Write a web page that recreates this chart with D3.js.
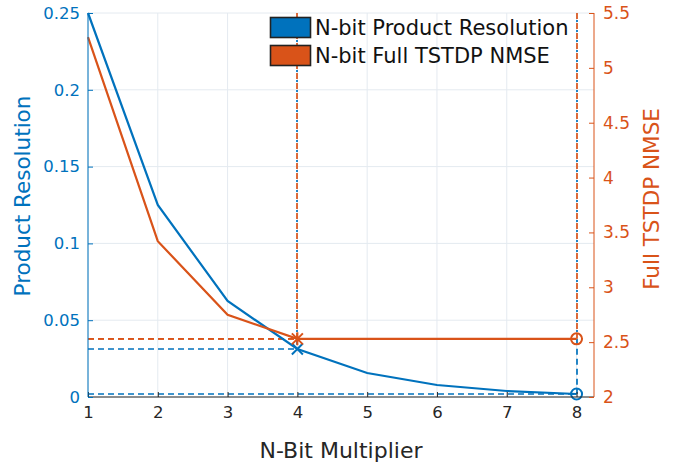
<!DOCTYPE html>
<html><head><meta charset="utf-8">
<script src="https://cdn.jsdelivr.net/npm/d3@7"></script>
<style>body{margin:0;background:#fff;} svg{display:block;font-family:"DejaVu Sans",sans-serif;}</style>
</head><body>
<svg id="c" width="686" height="464"></svg>
<script>
const bits = [1,2,3,4,5,6,7,8];
const resolution = [0.25,0.125,0.0625,0.03125,0.015625,0.0078125,0.00390625,0.001953125];
const nmse = [5.28,3.42,2.75,2.53,2.53,2.53,2.53,2.53];
const xTicks = [1,2,3,4,5,6,7,8];
const leftTicks = [0,0.05,0.1,0.15,0.2,0.25];
const rightTicks = [2,2.5,3,3.5,4,4.5,5,5.5];
const seriesNames = ["N-bit Product Resolution","N-bit Full TSTDP NMSE"];
const markIdx = [3,7]; // highlighted points (N=4 and N=8)

const BLUE="#0072BD", ORANGE="#D95319", GRID="#e4eaf0", DARK="#262626";
const L=88,R=594,T=13,B=397;
const svg=d3.select("#c");
const x=d3.scaleLinear().domain([1,8.25]).range([L,R]);
const yl=d3.scaleLinear().domain([0,0.25]).range([B,T]);
const yr=d3.scaleLinear().domain([2,5.5]).range([B,T]);

// grid
svg.append("g").selectAll("line").data(xTicks).join("line")
  .attr("x1",d=>x(d)).attr("x2",d=>x(d)).attr("y1",T).attr("y2",B)
  .attr("stroke",GRID).attr("stroke-width",1);
svg.append("g").selectAll("line").data(leftTicks).join("line")
  .attr("x1",L).attr("x2",R).attr("y1",d=>yl(d)).attr("y2",d=>yl(d))
  .attr("stroke",GRID).attr("stroke-width",1);

// dashed guide lines
const guides=svg.append("g").attr("fill","none").attr("stroke-width",1.7);
markIdx.forEach(i=>{
  const gx=Math.round(x(bits[i]));
  const by=yl(resolution[i]), oy=yr(nmse[i]);
  guides.append("line").attr("x1",x(1)).attr("x2",gx).attr("y1",by).attr("y2",by).attr("stroke",BLUE).attr("stroke-dasharray","6,4");
  guides.append("line").attr("x1",x(1)).attr("x2",gx).attr("y1",oy).attr("y2",oy).attr("stroke",ORANGE).attr("stroke-dasharray","6,4");
  guides.append("line").attr("x1",gx).attr("x2",gx).attr("y1",T).attr("y2",Math.min(by,oy)).attr("stroke",BLUE).attr("stroke-dasharray","2,8").attr("stroke-dashoffset",3);
  if (by>oy) guides.append("line").attr("x1",gx).attr("x2",gx).attr("y1",oy).attr("y2",by).attr("stroke",BLUE).attr("stroke-dasharray","6,4");
  guides.append("line").attr("x1",gx).attr("x2",gx).attr("y1",T).attr("y2",oy).attr("stroke",ORANGE).attr("stroke-dasharray","6,4");
});

// lines
svg.append("path").datum(bits.map((b,i)=>[b,resolution[i]]))
  .attr("d",d3.line().x(d=>x(d[0])).y(d=>yl(d[1])))
  .attr("fill","none").attr("stroke",BLUE).attr("stroke-width",2.2);
svg.append("path").datum(bits.map((b,i)=>[b,nmse[i]]))
  .attr("d",d3.line().x(d=>x(d[0])).y(d=>yr(d[1])))
  .attr("fill","none").attr("stroke",ORANGE).attr("stroke-width",2.2);

// markers
const m=svg.append("g").attr("fill","none").attr("stroke-width",2);
{
  const i=markIdx[0];
  const bx=x(bits[i]), by=yl(resolution[i]), s=5.5;
  m.append("path").attr("d",`M${bx-s},${by-s}L${bx+s},${by+s}M${bx-s},${by+s}L${bx+s},${by-s}`).attr("stroke",BLUE);
  const oy=yr(nmse[i]);
  m.append("path").attr("d",`M${bx-s},${oy-s}L${bx+s},${oy+s}M${bx-s},${oy+s}L${bx+s},${oy-s}M${bx},${oy-s-1}L${bx},${oy+s+1}`).attr("stroke",ORANGE);
  const j=markIdx[1];
  m.append("circle").attr("cx",x(bits[j])).attr("cy",yr(nmse[j])).attr("r",5.5).attr("stroke",ORANGE);
  m.append("circle").attr("cx",x(bits[j])).attr("cy",yl(resolution[j])).attr("r",5.5).attr("stroke",BLUE);
}

// axes
const fs=16.5;
const ax=svg.append("g").attr("transform",`translate(0,${B})`)
  .call(d3.axisBottom(x).tickValues(xTicks).tickSize(-5).tickPadding(9).tickFormat(d3.format("d")));
ax.select(".domain").attr("stroke",DARK).attr("d",`M${L},0H${R}`);
ax.selectAll(".tick line").attr("stroke",DARK);
ax.selectAll("text").attr("fill",DARK).attr("font-size",fs).attr("font-family","DejaVu Sans");

const al=svg.append("g").attr("transform",`translate(${L},0)`)
  .call(d3.axisLeft(yl).tickValues(leftTicks).tickSize(-5).tickPadding(8).tickFormat(d=>String(d)));
al.select(".domain").attr("stroke",BLUE).attr("d",`M0,${B}V${T}`);
al.selectAll(".tick line").attr("stroke",BLUE);
al.selectAll("text").attr("fill",BLUE).attr("font-size",fs).attr("font-family","DejaVu Sans");

const ar=svg.append("g").attr("transform",`translate(${R},0)`)
  .call(d3.axisRight(yr).tickValues(rightTicks).tickSize(-5).tickPadding(9).tickFormat(d=>String(d)));
ar.select(".domain").attr("stroke",ORANGE).attr("d",`M0,${B}V${T}`);
ar.selectAll(".tick line").attr("stroke",ORANGE);
ar.selectAll("text").attr("fill",ORANGE).attr("font-size",17).attr("font-family","DejaVu Sans");

// axis titles
svg.append("text").attr("x",(L+R)/2).attr("y",458).attr("text-anchor","middle")
  .attr("font-size",22).attr("fill",DARK).text("N-Bit Multiplier");
svg.append("text").attr("transform",`translate(30,${(T+B)/2-9}) rotate(-90)`).attr("text-anchor","middle")
  .attr("font-size",21.5).attr("fill",BLUE).text("Product Resolution");
svg.append("text").attr("transform",`translate(659,${(T+B)/2-6}) rotate(-90)`).attr("text-anchor","middle")
  .attr("font-size",21.5).attr("fill",ORANGE).text("Full TSTDP NMSE");

// legend
const lg=svg.append("g");
[BLUE,ORANGE].forEach((c,i)=>{
  lg.append("rect").attr("x",270.5).attr("y",17.5+i*28).attr("width",40).attr("height",20)
    .attr("fill",c).attr("stroke","#222").attr("stroke-width",1.6);
  lg.append("text").attr("x",315).attr("y",35+i*28).attr("font-size",21).attr("fill","#111").text(seriesNames[i]);
});
</script>
</body></html>
